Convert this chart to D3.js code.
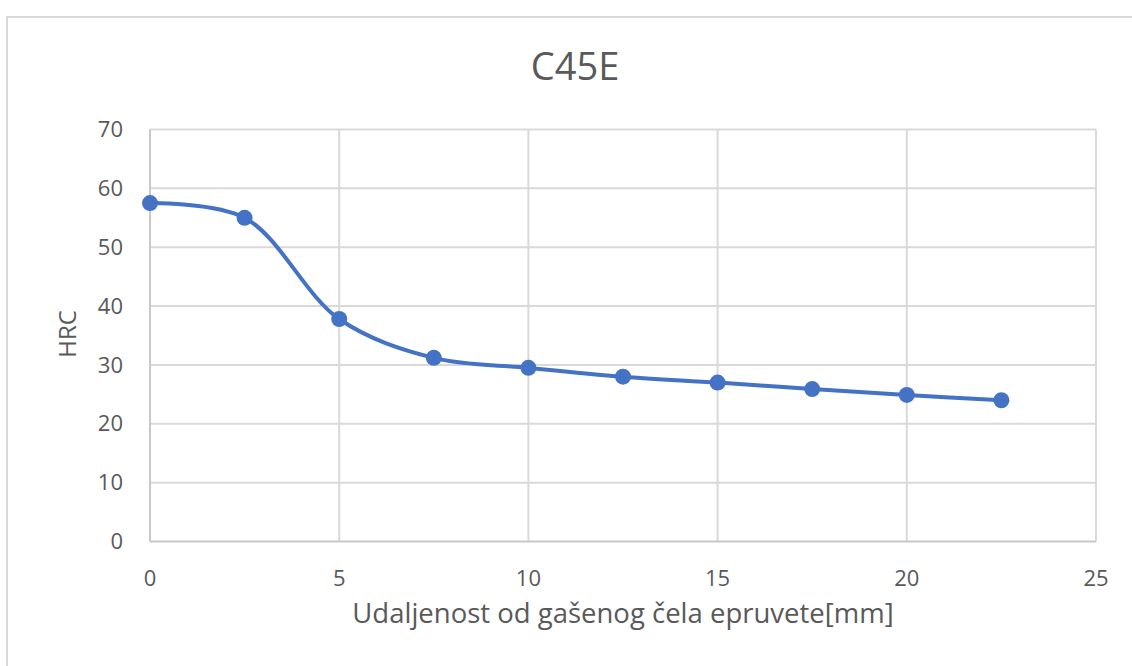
<!DOCTYPE html>
<html><head><meta charset="utf-8">
<script src="https://cdn.jsdelivr.net/npm/d3@7"></script>
<style>body{margin:0;background:#fff;} svg{display:block;} text{font-family:"Open Sans",sans-serif;fill:#595959;}</style>
</head><body>
<svg id="c" width="1132" height="666"></svg>
<script>
const title = "C45E";
const xLabel = "Udaljenost od gašenog čela epruvete[mm]";
const yLabel = "HRC";
const distances = [0, 2.5, 5, 7.5, 10, 12.5, 15, 17.5, 20, 22.5];
const hrc = [57.5, 55, 37.8, 31.2, 29.5, 28.0, 27.0, 25.9, 24.9, 24.0];
const xTicks = [0, 5, 10, 15, 20, 25];
const yTicks = [0, 10, 20, 30, 40, 50, 60, 70];

const svg = d3.select("#c");
const L = 150, R = 1096, T = 129.5, B = 541.5;
const x = d3.scaleLinear().domain([0, 25]).range([L, R]);
const y = d3.scaleLinear().domain([0, 70]).range([B, T]);

// chart frame (top and left visible)
svg.append("path").attr("d", "M7,666 L7,17 L1132,17").attr("fill", "none").attr("stroke", "#d9d9d9").attr("stroke-width", 2);

// gridlines
const g = svg.append("g");
g.selectAll(".hg").data(yTicks.filter(d => d > 0)).join("line")
  .attr("x1", L).attr("x2", R).attr("y1", d => y(d)).attr("y2", d => y(d))
  .attr("stroke", "#d9d9d9").attr("stroke-width", 2);
g.selectAll(".vg").data(xTicks.filter(d => d > 0)).join("line")
  .attr("y1", T).attr("y2", B).attr("x1", d => x(d)).attr("x2", d => x(d))
  .attr("stroke", "#d9d9d9").attr("stroke-width", 2);
// axes lines
svg.append("line").attr("x1", L).attr("x2", L).attr("y1", T).attr("y2", B).attr("stroke", "#c8c8c8").attr("stroke-width", 2);
svg.append("line").attr("x1", L).attr("x2", R).attr("y1", B).attr("y2", B).attr("stroke", "#c8c8c8").attr("stroke-width", 2);

// tick labels
svg.append("g").selectAll("text").data(yTicks).join("text")
  .attr("x", 123).attr("y", d => y(d)).attr("dy", "0.35em")
  .attr("text-anchor", "end").attr("font-size", 22).text(d => d);
svg.append("g").selectAll("text").data(xTicks).join("text")
  .attr("x", d => x(d)).attr("y", 586)
  .attr("text-anchor", "middle").attr("font-size", 22).text(d => d);

// titles
svg.append("text").attr("x", 575).attr("y", 80).attr("text-anchor", "middle").attr("font-size", 38).text(title);
svg.append("text").attr("x", (L + R) / 2).attr("y", 623).attr("text-anchor", "middle").attr("font-size", 27.5).text(xLabel);
svg.append("text").attr("transform", "translate(76,334) rotate(-90)").attr("text-anchor", "middle").attr("font-size", 24).text(yLabel);

// line
const pts = distances.map((d, i) => [d, hrc[i]]);
const line = d3.line().x(d => x(d[0])).y(d => y(d[1])).curve(d3.curveCatmullRom.alpha(0.5));
svg.append("path").datum(pts).attr("d", line).attr("fill", "none")
  .attr("stroke", "#4472C4").attr("stroke-width", 4).attr("stroke-linecap", "round");
svg.append("g").selectAll("circle").data(pts).join("circle")
  .attr("cx", d => x(d[0])).attr("cy", d => y(d[1])).attr("r", 8).attr("fill", "#4472C4");
</script>
</body></html>
